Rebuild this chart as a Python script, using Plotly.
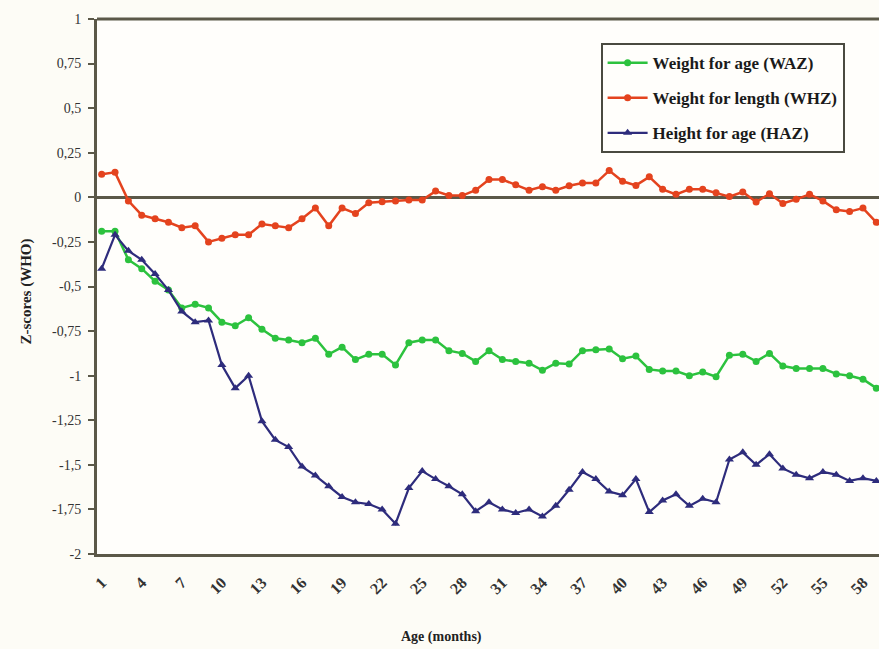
import plotly.graph_objects as go

months = list(range(1, 60))

waz = [-0.19, -0.19, -0.35, -0.40, -0.47, -0.52, -0.62, -0.60, -0.62, -0.70,
       -0.72, -0.675, -0.74, -0.79, -0.80, -0.815, -0.79, -0.88, -0.84, -0.91,
       -0.88, -0.88, -0.94, -0.815, -0.80, -0.80, -0.86, -0.875, -0.92, -0.86,
       -0.91, -0.92, -0.93, -0.97, -0.93, -0.935, -0.86, -0.855, -0.85, -0.905,
       -0.89, -0.965, -0.974, -0.974, -1.00, -0.98, -1.006, -0.886, -0.88, -0.92,
       -0.875, -0.946, -0.96, -0.96, -0.96, -0.99, -1.00, -1.02, -1.07]

whz = [0.13, 0.14, -0.02, -0.10, -0.12, -0.14, -0.17, -0.16, -0.25, -0.23,
       -0.21, -0.21, -0.15, -0.16, -0.17, -0.12, -0.06, -0.16, -0.06, -0.09,
       -0.03, -0.025, -0.02, -0.015, -0.015, 0.035, 0.01, 0.01, 0.04, 0.10,
       0.10, 0.07, 0.04, 0.06, 0.04, 0.065, 0.08, 0.08, 0.15, 0.09,
       0.067, 0.115, 0.045, 0.017, 0.045, 0.045, 0.026, 0.004, 0.03, -0.026,
       0.02, -0.034, -0.011, 0.017, -0.02, -0.07, -0.08, -0.06, -0.14]

haz = [-0.40, -0.21, -0.30, -0.35, -0.43, -0.52, -0.64, -0.70, -0.69, -0.94,
       -1.07, -1.00, -1.255, -1.36, -1.40, -1.51, -1.56, -1.62, -1.68, -1.71,
       -1.72, -1.75, -1.83, -1.63, -1.535, -1.58, -1.62, -1.665, -1.76, -1.71,
       -1.75, -1.77, -1.75, -1.79, -1.73, -1.64, -1.54, -1.58, -1.65, -1.67,
       -1.58, -1.765, -1.70, -1.665, -1.73, -1.69, -1.71, -1.47, -1.43, -1.50,
       -1.44, -1.52, -1.555, -1.575, -1.54, -1.555, -1.59, -1.575, -1.59]

x_ticks = list(range(1, 59, 3))
y_ticks = [1, 0.75, 0.5, 0.25, 0, -0.25, -0.5, -0.75, -1, -1.25, -1.5, -1.75, -2]
y_tick_text = ["1", "0,75", "0,5", "0,25", "0", "-0,25", "-0,5", "-0,75", "-1", "-1,25", "-1,5", "-1,75", "-2"]

series = [
    ("Weight for age (WAZ)", waz, "#2cc23e", "circle", 2.5, 7),
    ("Weight for length (WHZ)", whz, "#e4431e", "circle", 2.5, 7),
    ("Height for age (HAZ)", haz, "#2e2c7c", "triangle-up", 2.2, 8),
]

font_family = "Liberation Serif, Times New Roman, serif"
axis_color = "#5b5848"

fig = go.Figure()
for i, (name, vals, col, sym, lw, ms) in enumerate(series):
    fig.add_trace(go.Scatter(
        x=months, y=vals, name=name, mode="lines+markers",
        line=dict(color=col, width=lw),
        marker=dict(color=col, symbol=sym, size=ms),
        legendgroup=f"g{i}",
    ))

fig.update_layout(
    width=879, height=649,
    margin=dict(l=97, r=0, t=19, b=95),
    paper_bgcolor="#fdfcf6",
    plot_bgcolor="#fffefb",
    font=dict(family=font_family, size=14, color="#222222"),
    showlegend=True,
    legend=dict(
        x=0.644, y=0.955, xanchor="left", yanchor="top",
        bgcolor="#fffefb", bordercolor="#4a4a40", borderwidth=2,
        font=dict(family=font_family, size=17, color="#1a1a1a", weight="bold"),
        tracegroupgap=10, traceorder="grouped", itemwidth=40,
    ),
    xaxis=dict(
        range=[0.65, 59.2], tickmode="array", tickvals=x_ticks,
        ticktext=[str(v) for v in x_ticks], tickangle=-45,
        showgrid=False, zeroline=False, showline=True, linecolor=axis_color,
        linewidth=3, mirror=False, ticks="outside", ticklen=0,
        tickfont=dict(family=font_family, size=16, color="#333333", weight="bold"),
        ticklabelstandoff=10,
    ),
    yaxis=dict(
        range=[-2, 1], tickmode="array", tickvals=y_ticks, ticktext=y_tick_text,
        showgrid=False, zeroline=True, zerolinecolor=axis_color, zerolinewidth=2.5,
        showline=True, linecolor=axis_color, linewidth=3,
        ticks="outside", ticklen=6, tickwidth=2, tickcolor=axis_color,
        tickfont=dict(family=font_family, size=14, color="#333333"),
        ticklabelstandoff=4,
    ),
    annotations=[
        dict(text="<b>Z-scores (WHO)</b>", xref="paper", yref="paper",
             x=-0.09, y=0.49, textangle=-90, showarrow=False,
             xanchor="center", yanchor="middle",
             font=dict(family=font_family, size=15, color="#222222")),
        dict(text="<b>Age (months)</b>", xref="paper", yref="paper",
             x=0.44, y=-0.155, showarrow=False,
             xanchor="center", yanchor="middle",
             font=dict(family=font_family, size=14, color="#222222")),
    ],
    shapes=[
        dict(type="line", xref="paper", yref="paper", x0=0, x1=1, y0=1, y1=1,
             line=dict(color=axis_color, width=3)),
    ],
)

fig.write_html(
    "out.html",
    config={"displayModeBar": False},
    post_script="document.body.style.margin='0';document.body.style.overflow='hidden';",
)
